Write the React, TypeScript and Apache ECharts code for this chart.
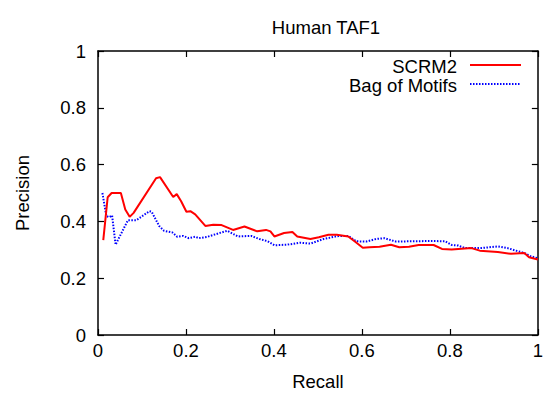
import { useEffect, useRef } from "react";
import * as echarts from "echarts";

// Precision-recall curves for the Human TAF1 motif search
const scrm2Recall = [
  0.012, 0.022, 0.031, 0.052, 0.062, 0.072, 0.081, 0.132, 0.141, 0.171, 0.179, 0.189,
  0.201, 0.21, 0.221, 0.244, 0.262, 0.281, 0.307, 0.333, 0.362, 0.382, 0.392, 0.401,
  0.423, 0.442, 0.453, 0.483, 0.502, 0.524, 0.543, 0.569, 0.584, 0.602, 0.617, 0.64,
  0.666, 0.685, 0.707, 0.729, 0.763, 0.782, 0.804, 0.849, 0.868, 0.909, 0.939, 0.969,
  0.98, 1.0,
];
const scrm2Precision = [
  0.334, 0.485, 0.5, 0.5, 0.442, 0.416, 0.43, 0.552, 0.556, 0.486, 0.496, 0.471,
  0.434, 0.436, 0.425, 0.384, 0.388, 0.387, 0.37, 0.382, 0.365, 0.37, 0.365, 0.347,
  0.359, 0.363, 0.347, 0.338, 0.344, 0.353, 0.353, 0.347, 0.329, 0.307, 0.309, 0.311,
  0.318, 0.309, 0.311, 0.317, 0.317, 0.303, 0.301, 0.306, 0.297, 0.292, 0.286, 0.289,
  0.274, 0.266,
];

const bomRecall = [
  0.01, 0.019, 0.025, 0.032, 0.04, 0.049, 0.068, 0.087, 0.117, 0.122, 0.139, 0.15,
  0.169, 0.18, 0.194, 0.206, 0.221, 0.229, 0.247, 0.274, 0.294, 0.318, 0.348, 0.367,
  0.386, 0.401, 0.43, 0.46, 0.483, 0.513, 0.543, 0.569, 0.587, 0.61, 0.632, 0.651,
  0.677, 0.715, 0.759, 0.789, 0.804, 0.819, 0.834, 0.871, 0.909, 0.931, 0.95, 0.969,
  0.984, 0.998,
];
const bomPrecision = [
  0.5, 0.419, 0.415, 0.421, 0.318, 0.346, 0.404, 0.404, 0.436, 0.434, 0.384, 0.367,
  0.361, 0.346, 0.349, 0.341, 0.346, 0.341, 0.345, 0.358, 0.367, 0.347, 0.349, 0.338,
  0.33, 0.316, 0.318, 0.325, 0.322, 0.338, 0.348, 0.349, 0.33, 0.329, 0.338, 0.341,
  0.329, 0.33, 0.331, 0.33, 0.317, 0.315, 0.306, 0.306, 0.312, 0.306, 0.297, 0.289,
  0.277, 0.271,
];

const seriesNames = ["SCRM2", "Bag of Motifs"];
const axisMin = 0;
const axisMax = 1;
const tickStep = 0.2;

const FONT = "'Liberation Sans', Arial, Helvetica, sans-serif";
const FS = 18.5;

const pairs = (xs: number[], ys: number[]) => xs.map((x, i) => [x, ys[i]]);

export default function App() {
  const ref = useRef<HTMLDivElement>(null);

  useEffect(() => {
    if (!ref.current) return;
    const chart = echarts.init(ref.current, null, { renderer: "svg" });

    const axisLine = { show: true, onZero: false, lineStyle: { color: "#000", width: 1.5 } };
    const tick = { show: true, inside: true, length: 6, lineStyle: { color: "#000", width: 1.2 } };

    chart.setOption({
      animation: false,
      backgroundColor: "#fff",
      textStyle: { fontFamily: FONT },
      title: {
        text: "Human TAF1",
        left: 321,
        top: 13,
        textAlign: "center",
        textStyle: { fontFamily: FONT, fontSize: FS, fontWeight: "normal", color: "#000" },
      },
      grid: { left: 98, right: 2, top: 51, bottom: 57, containLabel: false },
      xAxis: [
        {
          type: "value",
          min: axisMin,
          max: axisMax,
          interval: tickStep,
          position: "bottom",
          name: "Recall",
          nameLocation: "middle",
          nameGap: 37,
          nameTextStyle: { fontFamily: FONT, fontSize: FS, color: "#000" },
          axisLine,
          axisTick: tick,
          splitLine: { show: false },
          axisLabel: { margin: 6, fontFamily: FONT, fontSize: FS, color: "#000" },
        },
        {
          type: "value",
          min: axisMin,
          max: axisMax,
          interval: tickStep,
          position: "top",
          axisLine,
          axisTick: tick,
          splitLine: { show: false },
          axisLabel: { show: false },
        },
      ],
      yAxis: [
        {
          type: "value",
          min: axisMin,
          max: axisMax,
          interval: tickStep,
          position: "left",
          name: "Precision",
          nameLocation: "middle",
          nameGap: 66,
          nameTextStyle: { fontFamily: FONT, fontSize: FS, color: "#000" },
          axisLine,
          axisTick: tick,
          splitLine: { show: false },
          axisLabel: { margin: 12, fontFamily: FONT, fontSize: FS, color: "#000" },
        },
        {
          type: "value",
          min: axisMin,
          max: axisMax,
          interval: tickStep,
          position: "right",
          axisLine,
          axisTick: tick,
          splitLine: { show: false },
          axisLabel: { show: false },
        },
      ],
      series: [
        {
          name: seriesNames[0],
          type: "line",
          data: pairs(scrm2Recall, scrm2Precision),
          showSymbol: false,
          symbol: "none",
          lineStyle: { color: "#ff0000", width: 2 },
          z: 3,
        },
        {
          name: seriesNames[1],
          type: "line",
          data: pairs(bomRecall, bomPrecision),
          showSymbol: false,
          symbol: "none",
          lineStyle: { color: "#0000ff", width: 2, type: [1.5, 1.5] },
          z: 2,
        },
      ],
      graphic: [
        {
          type: "text",
          x: 457,
          y: 66,
          style: {
            text: seriesNames[0],
            fill: "#000",
            font: `${FS}px ${FONT}`,
            textAlign: "right",
            textVerticalAlign: "middle",
          },
        },
        {
          type: "line",
          shape: { x1: 470, y1: 65, x2: 521, y2: 65 },
          style: { stroke: "#ff0000", lineWidth: 2 },
        },
        {
          type: "text",
          x: 457,
          y: 85,
          style: {
            text: seriesNames[1],
            fill: "#000",
            font: `${FS}px ${FONT}`,
            textAlign: "right",
            textVerticalAlign: "middle",
          },
        },
        {
          type: "line",
          shape: { x1: 470, y1: 84, x2: 521, y2: 84 },
          style: { stroke: "#0000ff", lineWidth: 2, lineDash: [1.5, 1.5] },
        },
      ],
    });

    return () => chart.dispose();
  }, []);

  return (
    <div
      ref={ref}
      style={{ position: "absolute", left: 0, top: 0, width: 546, height: 396 }}
    />
  );
}
